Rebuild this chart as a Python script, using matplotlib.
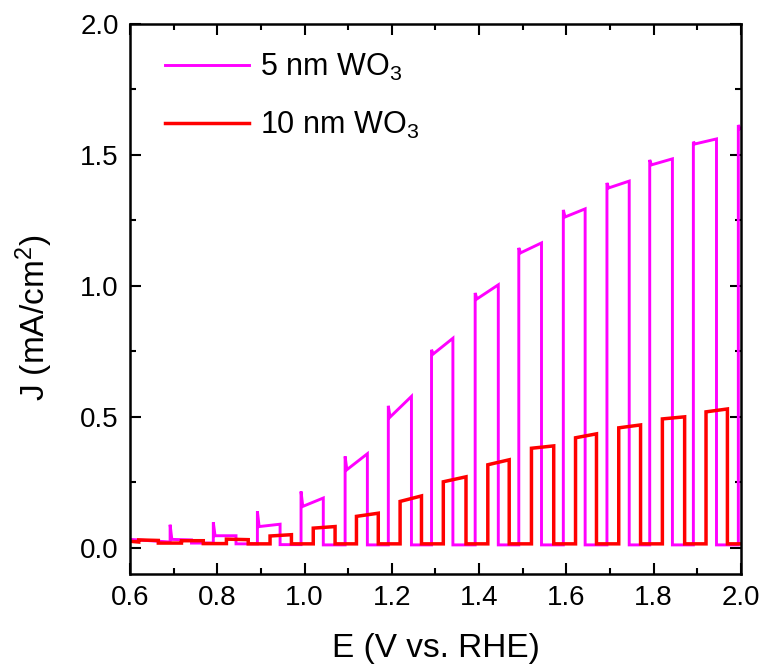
import matplotlib
matplotlib.use('Agg')
import matplotlib.pyplot as plt
from matplotlib.ticker import MultipleLocator

plt.rcParams['font.family'] = ['Liberation Sans', 'DejaVu Sans']
plt.rcParams['mathtext.fontset'] = 'custom'
plt.rcParams['mathtext.rm'] = 'Liberation Sans'
plt.rcParams['mathtext.it'] = 'Liberation Sans'
plt.rcParams['mathtext.default'] = 'regular'

# ---- data: 5 nm WO3 (magenta) chopped-light pulses ----
m_on = [0.692, 0.791, 0.892, 0.992, 1.093, 1.192, 1.291, 1.391, 1.491, 1.593, 1.693, 1.791, 1.891, 1.994]
m_off = [0.741, 0.843, 0.944, 1.043, 1.144, 1.245, 1.340, 1.444, 1.543, 1.643, 1.744, 1.843, 1.944, 2.050]
m_spike = [0.088, 0.097, 0.139, 0.215, 0.349, 0.542, 0.756, 0.973, 1.145, 1.290, 1.393, 1.481, 1.550, 1.614]
m_dip = [0.032, 0.046, 0.081, 0.158, 0.298, 0.499, 0.740, 0.950, 1.126, 1.263, 1.374, 1.462, 1.542, 1.600]
m_end = [0.030, 0.046, 0.090, 0.190, 0.359, 0.578, 0.800, 1.004, 1.164, 1.294, 1.400, 1.485, 1.561, 1.630]
m_dark = [0.022, 0.018, 0.015, 0.012, 0.011, 0.011, 0.011, 0.011, 0.011, 0.011, 0.011, 0.011, 0.011, 0.011]
m_start = (0.60, 0.032)

# ---- data: 10 nm WO3 (red) chopped-light pulses ----
r_on = [0.620, 0.718, 0.821, 0.921, 1.020, 1.119, 1.219, 1.318, 1.420, 1.520, 1.621, 1.720, 1.820, 1.920]
r_off = [0.665, 0.768, 0.871, 0.970, 1.070, 1.169, 1.268, 1.370, 1.469, 1.571, 1.669, 1.770, 1.871, 1.969]
r_top_start = [0.030, 0.027, 0.033, 0.045, 0.075, 0.120, 0.177, 0.252, 0.317, 0.380, 0.420, 0.458, 0.492, 0.519]
r_top_end = [0.028, 0.027, 0.031, 0.050, 0.081, 0.132, 0.198, 0.271, 0.336, 0.389, 0.435, 0.469, 0.500, 0.530]
r_dark = [0.022, 0.018, 0.016, 0.015, 0.015, 0.015, 0.015, 0.015, 0.015, 0.015, 0.015, 0.015, 0.015, 0.015]
r_start = (0.60, 0.025)
r_final = (2.00, 0.015)

x_ticks = [0.6, 0.8, 1.0, 1.2, 1.4, 1.6, 1.8, 2.0]
y_ticks = [0.0, 0.5, 1.0, 1.5, 2.0]


def build_magenta():
    xs = [m_start[0]]
    ys = [m_start[1]]
    for i in range(len(m_on)):
        xs += [m_on[i], m_on[i], m_on[i] + 0.004, m_off[i], m_off[i]]
        nxt = m_dark[i + 1] if i + 1 < len(m_dark) else m_dark[-1]
        ys += [m_dark[i], m_spike[i], m_dip[i], m_end[i], nxt]
    return xs, ys


def build_red():
    xs = [r_start[0]]
    ys = [r_start[1]]
    for i in range(len(r_on)):
        xs += [r_on[i], r_on[i], r_off[i], r_off[i]]
        nxt = r_dark[i + 1] if i + 1 < len(r_dark) else r_dark[-1]
        ys += [r_dark[i], r_top_start[i], r_top_end[i], nxt]
    xs.append(r_final[0])
    ys.append(r_final[1])
    return xs, ys


fig = plt.figure(figsize=(7.69, 6.71), dpi=100)
ax = fig.add_axes([0.169, 0.1446, 0.7945, 0.8197])

mx, my = build_magenta()
rx, ry = build_red()
ax.plot(mx, my, color='#FF00FF', lw=2.1, label='5 nm WO$_3$', solid_joinstyle='miter')
ax.plot(rx, ry, color='#FF0000', lw=2.5, label='10 nm WO$_3$', solid_joinstyle='miter')

ax.set_xlim(0.6, 2.0)
ax.set_ylim(-0.1, 2.0)
ax.set_xticks(x_ticks)
ax.set_yticks(y_ticks)
ax.set_xticklabels([f'{v:.1f}' for v in x_ticks])
ax.set_yticklabels([f'{v:.1f}' for v in y_ticks])
ax.xaxis.set_minor_locator(MultipleLocator(0.1))
ax.yaxis.set_minor_locator(MultipleLocator(0.25))
ax.tick_params(which='both', direction='in', top=True, right=True, width=1.5, labelsize=20, pad=8)
ax.tick_params(which='major', length=8)
ax.tick_params(which='minor', length=4.5)
for s in ax.spines.values():
    s.set_linewidth(1.8)

ax.set_xlabel('E (V vs. RHE)', fontsize=24)
ax.xaxis.set_label_coords(0.5, -0.107)
ax.set_ylabel('J (mA/cm$^2$)', fontsize=24)
ax.yaxis.set_label_coords(-0.123, 0.465)

ax.legend(loc='upper left', bbox_to_anchor=(0.038, 0.972), frameon=False, fontsize=22,
          handlelength=2.75, handletextpad=0.35, labelspacing=0.9, borderaxespad=0)

fig.savefig('out.png', dpi=100)
